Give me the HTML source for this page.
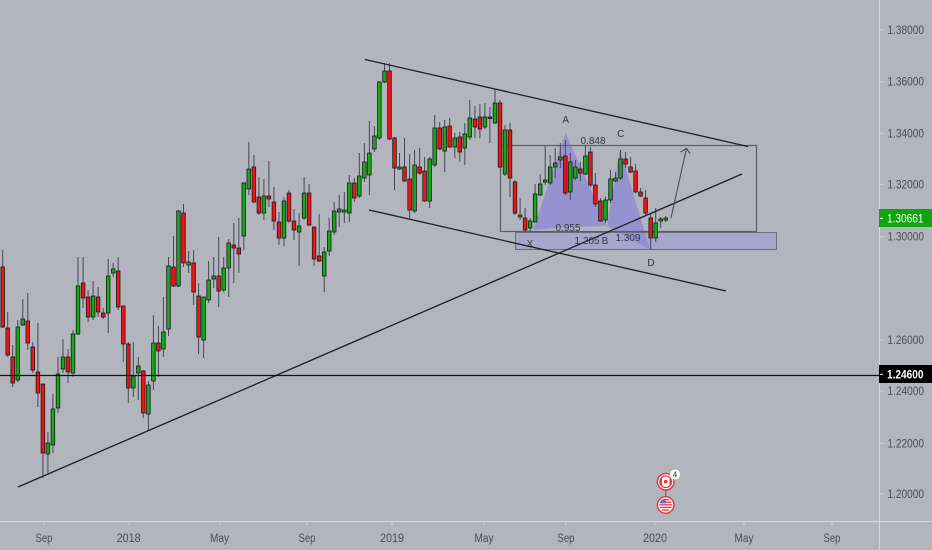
<!DOCTYPE html>
<html>
<head>
<meta charset="utf-8">
<style>
html,body{margin:0;padding:0;background:#b2b5be;}
svg{display:block;}
.ax{font-family:"Liberation Sans",sans-serif;font-size:11.5px;fill:#4a4d57;}
.lb{font-family:"Liberation Sans",sans-serif;font-size:10px;fill:#34373f;}
.g{fill:#17a817;stroke:#1a1a1a;stroke-width:0.8;}
.r{fill:#f01515;stroke:#1a1a1a;stroke-width:0.8;}
</style>
</head>
<body>
<svg width="932" height="550" viewBox="0 0 932 550" xmlns="http://www.w3.org/2000/svg">
<rect x="0" y="0" width="932" height="550" fill="#b2b5be"/>

<!-- harmonic pattern fill -->
<polygon points="533,230 565.7,133.3 607,226 570,227" fill="#7a6fe0" fill-opacity="0.5"/>
<polygon points="607,226 620,149.3 650,250" fill="#7a6fe0" fill-opacity="0.5"/>

<!-- band -->
<rect x="515.5" y="232.5" width="261" height="17" fill="#8f8ae6" fill-opacity="0.35" stroke="#6b6e78" stroke-width="1"/>
<!-- rectangle -->
<rect x="500.5" y="145.5" width="256" height="86" fill="none" stroke="#5c5f68" stroke-width="1.2"/>

<!-- wicks -->
<path stroke="#454852" stroke-width="1" fill="none" d="
M2.7 250V328 M7.7 312V357 M12.7 345V387 M17.8 320V382 M22.8 299V326 M27.8 293V350 M32.8 342V373 M37.9 323V407 M42.9 384V478 M47.9 432V473
M52.9 394V453 M58 357V413 M63 339V373 M68 349V383 M73 330V377 M78 257V335 M83.1 257V308 M88.1 290V322 M93.1 281V320 M98.1 287V317
M103.2 308V319 M108.2 259V333 M113.2 263V277 M118.2 257V310 M123.3 306V362 M128.3 342V403 M133.3 342V397 M138.3 357V400 M143.3 370V418 M148.4 381V430
M153.4 315V390 M158.4 326V377 M163.4 297V357 M168.5 257V336 M173.5 236V287 M178.5 210V287 M183.5 204V267 M188.6 251V273 M193.6 250V305 M198.6 283V354
M203.6 297V358 M208.6 261V303 M213.7 257V288 M218.7 237V307 M223.7 257V292 M228.7 239V297 M233.8 223V283 M238.8 218V273 M243.8 182V250 M248.8 142V195
M253.9 155V203 M258.9 177V215 M263.9 179V220 M268.9 161V207 M273.9 187V230 M279 212V245 M284 197V246 M289 190V223 M294 209V240 M299.1 213V266
M304.1 177V220 M309.1 184V226 M314.1 227V266 M319.2 214V262 M324.2 247V292 M329.2 218V256 M334.2 202V235 M339.2 195V227 M344.3 192V223 M349.3 175V222
M354.3 178V202 M359.3 153V198 M364.4 143V182 M369.4 121V195 M374.4 126V152 M379.4 81V140 M384.5 63V83 M389.5 63V140 M394.5 137V190 M399.5 153V170
M404.5 138V182 M409.6 154V218 M414.6 150V213 M419.6 148V175 M424.6 157V202 M429.7 157V208 M434.7 115V167 M439.7 122V150 M444.7 120V172 M449.7 118V148
M454.8 133V158 M459.8 132V162 M464.8 123V165 M469.8 100V140 M474.9 106V138 M479.9 104V138 M484.9 103V129 M489.9 107V143 M495 90V124 M500 100V168
M505 125V176 M510 123V197 M515 180V215 M520.1 198V220 M525.1 208V232 M530.1 218V232 M535.1 184V222 M540.2 174V196 M545.2 146V185 M550.2 155V185
M555.2 148V178 M560.3 143V168 M565.3 140V195 M570.3 153V200 M575.3 160V180 M580.3 162V181 M585.4 146V175 M590.4 147V187 M595.4 173V207 M600.4 198V222
M605.5 197V223 M610.5 170V203 M615.5 172V182 M620.5 150V180 M625.6 152V168 M630.6 157V173 M635.6 164V193 M640.6 188V197 M645.6 190V215 M650.7 213V250
M655.7 208V242 M660.7 217V228 M665.7 216V222"/>

<!-- bodies -->
<g>
<rect class="r" x="0.9" y="267" width="3.6" height="60"/>
<rect class="r" x="5.9" y="328" width="3.6" height="27"/>
<rect class="r" x="10.9" y="357" width="3.6" height="26"/>
<rect class="g" x="16" y="327" width="3.6" height="53"/>
<rect class="g" x="21" y="319" width="3.6" height="6"/>
<rect class="r" x="26" y="321" width="3.6" height="22"/>
<rect class="r" x="31" y="347" width="3.6" height="23"/>
<rect class="r" x="36.1" y="372" width="3.6" height="21"/>
<rect class="r" x="41.1" y="384" width="3.6" height="69"/>
<rect class="g" x="46.1" y="443" width="3.6" height="11"/>
<rect class="g" x="51.1" y="409" width="3.6" height="36"/>
<rect class="g" x="56.2" y="374" width="3.6" height="34"/>
<rect class="g" x="61.2" y="357" width="3.6" height="12"/>
<rect class="r" x="66.2" y="357" width="3.6" height="15"/>
<rect class="g" x="71.2" y="334" width="3.6" height="39"/>
<rect class="g" x="76.2" y="286" width="3.6" height="48"/>
<rect class="r" x="81.3" y="283" width="3.6" height="15"/>
<rect class="r" x="86.3" y="297" width="3.6" height="20"/>
<rect class="g" x="91.3" y="296" width="3.6" height="21"/>
<rect class="r" x="96.3" y="297" width="3.6" height="15"/>
<rect class="r" x="101.4" y="313" width="3.6" height="4"/>
<rect class="g" x="106.4" y="276" width="3.6" height="37"/>
<rect class="g" x="111.4" y="269" width="3.6" height="4"/>
<rect class="r" x="116.4" y="271" width="3.6" height="36"/>
<rect class="r" x="121.5" y="306" width="3.6" height="38"/>
<rect class="r" x="126.5" y="344" width="3.6" height="44"/>
<rect class="g" x="131.5" y="376" width="3.6" height="12"/>
<rect class="g" x="136.5" y="366" width="3.6" height="7"/>
<rect class="r" x="141.5" y="371" width="3.6" height="42"/>
<rect class="g" x="146.6" y="385" width="3.6" height="29"/>
<rect class="g" x="151.6" y="343" width="3.6" height="38"/>
<rect class="r" x="156.6" y="343" width="3.6" height="8"/>
<rect class="g" x="161.6" y="332" width="3.6" height="17"/>
<rect class="g" x="166.7" y="266" width="3.6" height="63"/>
<rect class="r" x="171.7" y="267" width="3.6" height="19"/>
<rect class="g" x="176.7" y="211" width="3.6" height="75"/>
<rect class="r" x="181.7" y="213" width="3.6" height="50"/>
<rect class="g" x="186.8" y="262" width="3.6" height="3"/>
<rect class="r" x="191.8" y="263" width="3.6" height="29"/>
<rect class="r" x="196.8" y="296" width="3.6" height="41"/>
<rect class="g" x="201.8" y="297" width="3.6" height="43"/>
<rect class="g" x="206.8" y="280" width="3.6" height="20"/>
<rect class="g" x="211.9" y="276" width="3.6" height="3"/>
<rect class="r" x="216.9" y="276" width="3.6" height="15"/>
<rect class="g" x="221.9" y="268" width="3.6" height="22"/>
<rect class="g" x="226.9" y="243" width="3.6" height="25"/>
<rect class="r" x="232" y="245" width="3.6" height="3"/>
<rect class="r" x="237" y="248" width="3.6" height="6"/>
<rect class="g" x="242" y="183" width="3.6" height="53"/>
<rect class="g" x="247" y="169" width="3.6" height="20"/>
<rect class="r" x="252.1" y="167" width="3.6" height="35"/>
<rect class="r" x="257.1" y="197" width="3.6" height="16"/>
<rect class="g" x="262.1" y="196" width="3.6" height="17"/>
<rect class="r" x="267.1" y="196" width="3.6" height="3"/>
<rect class="r" x="272.1" y="202" width="3.6" height="19"/>
<rect class="r" x="277.2" y="222" width="3.6" height="16"/>
<rect class="g" x="282.2" y="201" width="3.6" height="37"/>
<rect class="r" x="287.2" y="193" width="3.6" height="28"/>
<rect class="r" x="292.2" y="221" width="3.6" height="9"/>
<rect class="g" x="297.3" y="226" width="3.6" height="6"/>
<rect class="g" x="302.3" y="193" width="3.6" height="25"/>
<rect class="r" x="307.3" y="193" width="3.6" height="32"/>
<rect class="r" x="312.3" y="227" width="3.6" height="32"/>
<rect class="r" x="317.4" y="256" width="3.6" height="5"/>
<rect class="g" x="322.4" y="252" width="3.6" height="24"/>
<rect class="g" x="327.4" y="231" width="3.6" height="20"/>
<rect class="g" x="332.4" y="211" width="3.6" height="21"/>
<rect class="g" x="337.4" y="209" width="3.6" height="3"/>
<rect class="g" x="342.5" y="210" width="3.6" height="2"/>
<rect class="g" x="347.5" y="183" width="3.6" height="30"/>
<rect class="r" x="352.5" y="183" width="3.6" height="15"/>
<rect class="g" x="357.5" y="176" width="3.6" height="20"/>
<rect class="g" x="362.6" y="162" width="3.6" height="16"/>
<rect class="g" x="367.6" y="153" width="3.6" height="22"/>
<rect class="g" x="372.6" y="136" width="3.6" height="13"/>
<rect class="g" x="377.6" y="82" width="3.6" height="56"/>
<rect class="g" x="382.7" y="71" width="3.6" height="11"/>
<rect class="r" x="387.7" y="71" width="3.6" height="68"/>
<rect class="r" x="392.7" y="138" width="3.6" height="30"/>
<rect class="g" x="397.7" y="167" width="3.6" height="2"/>
<rect class="r" x="402.7" y="167" width="3.6" height="14"/>
<rect class="r" x="407.8" y="179" width="3.6" height="31"/>
<rect class="g" x="412.8" y="165" width="3.6" height="46"/>
<rect class="r" x="417.8" y="167" width="3.6" height="6"/>
<rect class="r" x="422.8" y="171" width="3.6" height="30"/>
<rect class="g" x="427.9" y="159" width="3.6" height="42"/>
<rect class="g" x="432.9" y="128" width="3.6" height="37"/>
<rect class="r" x="437.9" y="128" width="3.6" height="21"/>
<rect class="g" x="442.9" y="127" width="3.6" height="24"/>
<rect class="r" x="447.9" y="126" width="3.6" height="21"/>
<rect class="g" x="453" y="138" width="3.6" height="9"/>
<rect class="r" x="458" y="137" width="3.6" height="15"/>
<rect class="g" x="463" y="134" width="3.6" height="14"/>
<rect class="g" x="468" y="118" width="3.6" height="19"/>
<rect class="r" x="473.1" y="119" width="3.6" height="8"/>
<rect class="r" x="478.1" y="117" width="3.6" height="12"/>
<rect class="g" x="483.1" y="117" width="3.6" height="10"/>
<rect class="r" x="488.1" y="117" width="3.6" height="1.5"/>
<rect class="g" x="493.2" y="103" width="3.6" height="20"/>
<rect class="r" x="498.2" y="103" width="3.6" height="64"/>
<rect class="g" x="503.2" y="130" width="3.6" height="44"/>
<rect class="r" x="508.2" y="130" width="3.6" height="48"/>
<rect class="r" x="513.2" y="182" width="3.6" height="31"/>
<rect class="g" x="518.3" y="215" width="3.6" height="2"/>
<rect class="r" x="523.3" y="218" width="3.6" height="12"/>
<rect class="g" x="528.3" y="221" width="3.6" height="7"/>
<rect class="g" x="533.3" y="194" width="3.6" height="28"/>
<rect class="g" x="538.4" y="184" width="3.6" height="11"/>
<rect class="g" x="543.4" y="180" width="3.6" height="2"/>
<rect class="g" x="548.4" y="167" width="3.6" height="16"/>
<rect class="g" x="553.4" y="163" width="3.6" height="4"/>
<rect class="g" x="558.5" y="157" width="3.6" height="3"/>
<rect class="r" x="563.5" y="156" width="3.6" height="37"/>
<rect class="g" x="568.5" y="162" width="3.6" height="30"/>
<rect class="g" x="573.5" y="167" width="3.6" height="11"/>
<rect class="r" x="578.5" y="169" width="3.6" height="4"/>
<rect class="g" x="583.6" y="156" width="3.6" height="18"/>
<rect class="r" x="588.6" y="152" width="3.6" height="33"/>
<rect class="r" x="593.6" y="185" width="3.6" height="19"/>
<rect class="r" x="598.6" y="201" width="3.6" height="20"/>
<rect class="g" x="603.7" y="200" width="3.6" height="20"/>
<rect class="g" x="608.7" y="179" width="3.6" height="21"/>
<rect class="g" x="613.7" y="178" width="3.6" height="3"/>
<rect class="g" x="618.7" y="159" width="3.6" height="19"/>
<rect class="r" x="623.8" y="159" width="3.6" height="5"/>
<rect class="r" x="628.8" y="167" width="3.6" height="5"/>
<rect class="r" x="633.8" y="171" width="3.6" height="21"/>
<rect class="r" x="638.8" y="192" width="3.6" height="4"/>
<rect class="r" x="643.8" y="198" width="3.6" height="15"/>
<rect class="r" x="648.9" y="218" width="3.6" height="20"/>
<rect class="g" x="653.9" y="223" width="3.6" height="15"/>
<rect class="g" x="658.9" y="219" width="3.6" height="2"/>
<rect class="g" x="663.9" y="218" width="3.6" height="2"/>
</g>

<!-- trend lines -->
<g stroke="#1e1f24" stroke-width="1.3" fill="none">
<line x1="365" y1="59.5" x2="748" y2="146.5"/>
<line x1="369" y1="210" x2="726" y2="291"/>
<line x1="18" y1="487" x2="742" y2="174"/>
</g>
<line x1="0" y1="375.5" x2="879" y2="375.5" stroke="#111" stroke-width="1.2"/>

<!-- arrow -->
<g stroke="#4a4d56" stroke-width="1.1" fill="none">
<line x1="671" y1="218" x2="686.5" y2="148.5"/>
<polyline points="680.5,152 686.5,148.5 690,153.5"/>
</g>

<!-- pattern labels -->
<text class="lb" x="565.7" y="123" text-anchor="middle">A</text>
<text class="lb" x="620.7" y="137" text-anchor="middle">C</text>
<text class="lb" x="593" y="144" text-anchor="middle">0.848</text>
<text class="lb" x="568" y="231" text-anchor="middle">0.955</text>
<text class="lb" x="587" y="244" text-anchor="middle">1.205</text>
<text class="lb" x="605" y="244" text-anchor="middle">B</text>
<text class="lb" x="628" y="241" text-anchor="middle">1.309</text>
<text class="lb" x="530" y="247" text-anchor="middle">X</text>
<text class="lb" x="651" y="266" text-anchor="middle">D</text>

<!-- axes separators -->
<line x1="879.5" y1="0" x2="879.5" y2="550" stroke="#d6d8de" stroke-width="1"/>
<line x1="0" y1="521.5" x2="932" y2="521.5" stroke="#d6d8de" stroke-width="1"/>

<!-- right axis ticks -->
<g stroke="#d0d2d8" stroke-width="1">
<line x1="880" y1="30" x2="884" y2="30"/>
<line x1="880" y1="81.7" x2="884" y2="81.7"/>
<line x1="880" y1="133.3" x2="884" y2="133.3"/>
<line x1="880" y1="184.3" x2="884" y2="184.3"/>
<line x1="880" y1="236.7" x2="884" y2="236.7"/>
<line x1="880" y1="340" x2="884" y2="340"/>
<line x1="880" y1="391" x2="884" y2="391"/>
<line x1="880" y1="443.3" x2="884" y2="443.3"/>
<line x1="880" y1="494" x2="884" y2="494"/>
</g>
<g class="ax">
<text x="887.5" y="34" textLength="36.5" lengthAdjust="spacingAndGlyphs">1.38000</text>
<text x="887.5" y="85.7" textLength="36.5" lengthAdjust="spacingAndGlyphs">1.36000</text>
<text x="887.5" y="137.3" textLength="36.5" lengthAdjust="spacingAndGlyphs">1.34000</text>
<text x="887.5" y="188.3" textLength="36.5" lengthAdjust="spacingAndGlyphs">1.32000</text>
<text x="887.5" y="240.7" textLength="36.5" lengthAdjust="spacingAndGlyphs">1.30000</text>
<text x="887.5" y="344" textLength="36.5" lengthAdjust="spacingAndGlyphs">1.26000</text>
<text x="887.5" y="395" textLength="36.5" lengthAdjust="spacingAndGlyphs">1.24000</text>
<text x="887.5" y="447.3" textLength="36.5" lengthAdjust="spacingAndGlyphs">1.22000</text>
<text x="887.5" y="498" textLength="36.5" lengthAdjust="spacingAndGlyphs">1.20000</text>
</g>

<!-- price labels -->
<rect x="879" y="209" width="53" height="18" fill="#0ea50e"/>
<line x1="880" y1="218.3" x2="883" y2="218.3" stroke="#fff" stroke-width="1"/>
<text x="887" y="222.3" textLength="36.5" lengthAdjust="spacingAndGlyphs" style="font-family:'Liberation Sans',sans-serif;font-size:11.5px;fill:#ffffff;">1.30661</text>
<rect x="879" y="365" width="53" height="18" fill="#000000"/>
<line x1="880" y1="374.3" x2="883" y2="374.3" stroke="#fff" stroke-width="1"/>
<text x="887" y="378.5" textLength="36.5" lengthAdjust="spacingAndGlyphs" style="font-family:'Liberation Sans',sans-serif;font-size:11.5px;font-weight:bold;fill:#ffffff;">1.24600</text>

<!-- bottom axis ticks -->
<g stroke="#d0d2d8" stroke-width="1">
<line x1="44" y1="522" x2="44" y2="525"/>
<line x1="129" y1="522" x2="129" y2="525"/>
<line x1="220" y1="522" x2="220" y2="525"/>
<line x1="307" y1="522" x2="307" y2="525"/>
<line x1="392" y1="522" x2="392" y2="525"/>
<line x1="484" y1="522" x2="484" y2="525"/>
<line x1="566" y1="522" x2="566" y2="525"/>
<line x1="655" y1="522" x2="655" y2="525"/>
<line x1="744" y1="522" x2="744" y2="525"/>
<line x1="832" y1="522" x2="832" y2="525"/>
</g>
<g class="ax" text-anchor="middle">
<text x="44" y="542" textLength="17" lengthAdjust="spacingAndGlyphs">Sep</text>
<text x="128.7" y="542" textLength="24" lengthAdjust="spacingAndGlyphs">2018</text>
<text x="219.5" y="542" textLength="19" lengthAdjust="spacingAndGlyphs">May</text>
<text x="307" y="542" textLength="17" lengthAdjust="spacingAndGlyphs">Sep</text>
<text x="392" y="542" textLength="24" lengthAdjust="spacingAndGlyphs">2019</text>
<text x="484" y="542" textLength="19" lengthAdjust="spacingAndGlyphs">May</text>
<text x="566" y="542" textLength="17" lengthAdjust="spacingAndGlyphs">Sep</text>
<text x="655" y="542" textLength="24" lengthAdjust="spacingAndGlyphs">2020</text>
<text x="744" y="542" textLength="19" lengthAdjust="spacingAndGlyphs">May</text>
<text x="832" y="542" textLength="17" lengthAdjust="spacingAndGlyphs">Sep</text>
</g>

<!-- event flags -->
<defs>
<clipPath id="c2"><circle cx="665.7" cy="505" r="6.3"/></clipPath>
</defs>
<line x1="665.7" y1="490" x2="665.7" y2="497" stroke="#e23a44" stroke-width="1.2"/>
<circle cx="665.7" cy="481.7" r="8.3" fill="#f4e9ec" stroke="#e5333f" stroke-width="1.4"/>
<circle cx="665.7" cy="481.7" r="5.8" fill="#ffffff" stroke="#e5333f" stroke-width="1.1"/>
<rect x="660.3" y="478" width="1.6" height="7.4" fill="#e5333f"/>
<rect x="669.5" y="478" width="1.6" height="7.4" fill="#e5333f"/>
<circle cx="665.7" cy="481.7" r="1.8" fill="#e5333f"/>
<circle cx="675" cy="474.5" r="5" fill="#ffffff"/>
<text x="675" y="477.5" text-anchor="middle" style="font-family:'Liberation Sans',sans-serif;font-size:8px;fill:#333;">4</text>
<circle cx="665.7" cy="505" r="8.3" fill="#f4e9ec" stroke="#e5333f" stroke-width="1.4"/>
<g clip-path="url(#c2)">
<rect x="659" y="498" width="14" height="14" fill="#ffffff"/>
<rect x="659" y="499" width="14" height="1.3" fill="#e5333f"/>
<rect x="659" y="501.6" width="14" height="1.3" fill="#e5333f"/>
<rect x="659" y="504.2" width="14" height="1.3" fill="#e5333f"/>
<rect x="659" y="506.8" width="14" height="1.3" fill="#e5333f"/>
<rect x="659" y="509.4" width="14" height="1.3" fill="#e5333f"/>
<rect x="659" y="498" width="7" height="5.5" fill="#6c6fc0"/>
</g>
</svg>
</body>
</html>
